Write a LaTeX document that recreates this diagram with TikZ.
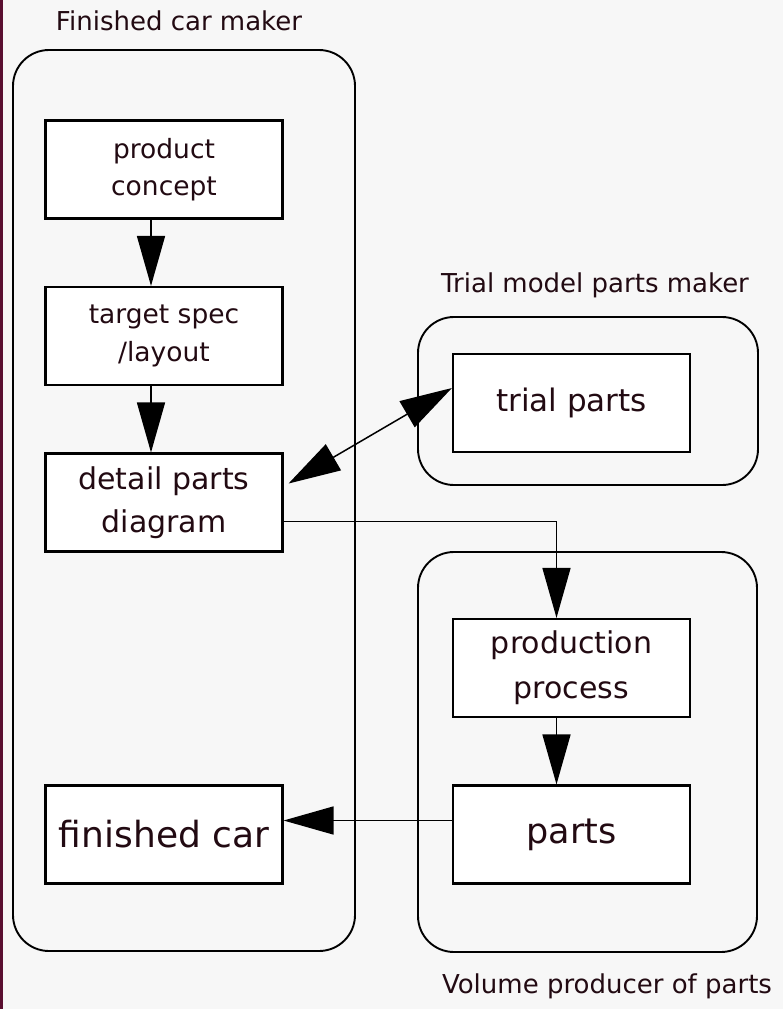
\documentclass[tikz,border=0pt]{standalone}
\usepackage{fontspec}
\setmainfont{DejaVu Sans}
\usepackage{xcolor}
\usepackage{tikz}
\usetikzlibrary{arrows.meta,positioning}
\definecolor{inkc}{HTML}{220A12}
\definecolor{paperc}{HTML}{F7F7F7}
\definecolor{stripc}{HTML}{5A0E30}
\tikzset{
  groupbox/.style={draw=black, line width=1.9pt, rounded corners=36pt},
  stagebox/.style={rectangle, draw=black, fill=white, line width=2.1pt,
    minimum width=237pt, minimum height=98pt, align=center, text=inkc, inner sep=0pt},
  grouplabel/.style={anchor=base, text=inkc, font=\fontsize{26}{30}\selectfont},
  flowedge/.style={-{Triangle[length=50pt, width=28pt]}, draw=black, line width=1.5pt},
  linkedge/.style={{Triangle[length=52pt, width=30pt]}-{Triangle[length=52pt, width=30pt]},
    draw=black, line width=1.5pt},
}

\begin{document}
\begin{tikzpicture}[x=1pt, y=-1pt]
  % paper and scanned edge
  \fill[paperc] (0,0) rectangle (783,1009);
  \fill[stripc] (0,0) rectangle (3,1009);
  \useasboundingbox (0,0) rectangle (783,1009);

  % company groups
  \draw[groupbox] (13,50) rectangle (355,951);
  \draw[groupbox] (418,317) rectangle (758,485);
  \draw[groupbox] (418,552) rectangle (757,952);
  \node[grouplabel] (makerlabel) at (179,30) {Finished car maker};
  \node[grouplabel] (triallabel) at (595,292) {Trial model parts maker};
  \node[grouplabel] (volumelabel) at (607,993) {Volume producer of parts};

  % stages
  \node[stagebox, font=\fontsize{26.5}{37}\selectfont] (concept) at (164,169.5) {product\\concept};
  \node[stagebox, font=\fontsize{26.5}{38}\selectfont] (spec) at (164,336) {target spec\\/layout};
  \node[stagebox, font=\fontsize{30}{43}\selectfont] (detail) at (164,502.5) {detail parts\\diagram};
  \node[stagebox, font=\fontsize{36}{40}\selectfont] (car) at (164,834.5) {finished car};
  \node[stagebox, font=\fontsize{31}{36}\selectfont] (trial) at (571.5,403) {trial parts};
  \node[stagebox, font=\fontsize{30}{45}\selectfont] (process) at (571.5,668) {production\\process};
  \node[stagebox, font=\fontsize{35}{40}\selectfont] (parts) at (571.5,834.5) {parts};

  % flow
  \draw[flowedge] ([xshift=-13pt]concept.south) -- ([xshift=-13pt]spec.north);
  \draw[flowedge] ([xshift=-13pt]spec.south) -- ([xshift=-13pt]detail.north);
  \draw[linkedge] ([shift={(5pt,19pt)}]detail.east) -- ([yshift=15pt]trial.west);
  \draw[flowedge] ([yshift=-19pt]detail.east) -| ([xshift=-15pt]process.north);
  \draw[flowedge] ([xshift=-15pt]process.south) -- ([xshift=-15pt]parts.north);
  \draw[flowedge] ([yshift=14pt]parts.west) -- ([yshift=14pt]car.east);
\end{tikzpicture}
\end{document}
